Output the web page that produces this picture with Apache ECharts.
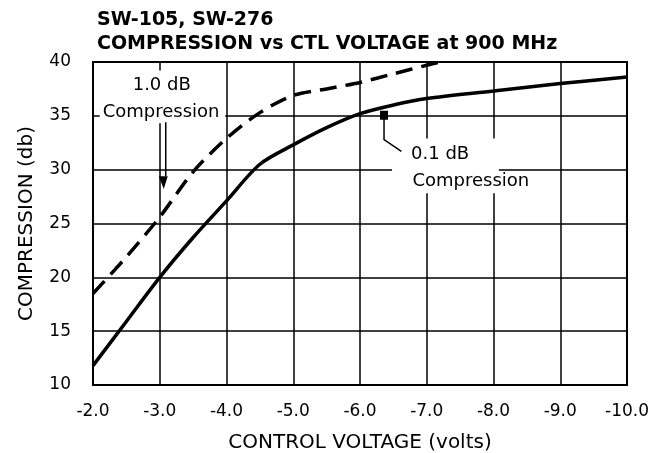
<!DOCTYPE html>
<html>
<head>
<meta charset="utf-8">
<script src="https://cdn.jsdelivr.net/npm/echarts@6/dist/echarts.min.js"></script>
<style>
  html, body { margin: 0; padding: 0; background: #fff; }
  #chart { width: 658px; height: 453px; }
</style>
</head>
<body>
<div id="chart"></div>
<script>
// control voltage (volts) and compression (db)
const voltsFine = [-2, -2.5, -3, -3.5, -4, -4.5, -5, -5.5, -6, -6.5, -7, -8, -9, -10]
const comp01dB = [11.8, 15.9, 20.0, 23.7, 27.1, 30.5, 32.3, 33.9, 35.2, 36.0, 36.6, 37.3, 38.0, 38.6]

const voltsCoarse = [-2, -2.5, -3, -3.5, -4, -4.5, -5, -5.5, -6, -6.5, -7, -7.2]
const comp10dB = [18.5, 21.9, 25.6, 29.8, 32.9, 35.3, 36.9, 37.5, 38.1, 38.9, 39.7, 40.0]

const xTicks = [-2, -3, -4, -5, -6, -7, -8, -9, -10]
const yTicks = [10, 15, 20, 25, 30, 35, 40]

const chart = echarts.init(document.getElementById('chart'))

const font = 'DejaVu Sans'

const option = {
  animation: false,
  title: {
    text: 'SW-105, SW-276\nCOMPRESSION vs CTL VOLTAGE at 900 MHz',
    left: 97,
    top: 8,
    padding: 0,
    textStyle: {
      fontFamily: font,
      fontWeight: 'bold',
      fontSize: 19,
      lineHeight: 24,
      color: '#000'
    }
  },
  grid: {
    left: 93,
    right: 31,
    top: 62,
    bottom: 68,
    outerBoundsMode: 'none',
    show: true,
    borderColor: '#000',
    borderWidth: 2
  },
  xAxis: {
    type: 'value',
    inverse: true,
    min: -10,
    max: -2,
    interval: 1,
    name: 'CONTROL VOLTAGE (volts)',
    nameLocation: 'middle',
    nameGap: 48,
    nameTextStyle: { fontFamily: font, fontSize: 20, color: '#000' },
    axisLine: { lineStyle: { color: '#000', width: 2 } },
    axisTick: { show: false },
    axisLabel: {
      margin: 18,
      fontFamily: font,
      fontSize: 17,
      color: '#000',
      formatter: (v) => (xTicks.includes(v) ? v.toFixed(1) : '')
    },
    splitLine: { show: true, lineStyle: { color: '#000', width: 1.5 } }
  },
  yAxis: {
    type: 'value',
    min: 10,
    max: 40,
    interval: 5,
    name: 'COMPRESSION (db)',
    nameLocation: 'middle',
    nameGap: 56,
    nameTextStyle: { fontFamily: font, fontSize: 20, color: '#000' },
    axisLine: { show: true, lineStyle: { color: '#000', width: 2 } },
    axisTick: { show: false },
    axisLabel: {
      margin: 22,
      fontFamily: font,
      fontSize: 17,
      color: '#000',
      formatter: (v) => (yTicks.includes(v) ? String(v) : '')
    },
    splitLine: { show: true, lineStyle: { color: '#000', width: 1.5 } }
  },
  series: [
    {
      name: '0.1 dB Compression',
      type: 'line',
      data: voltsFine.map((v, i) => [v, comp01dB[i]]),
      smooth: 0.3,
      showSymbol: false,
      lineStyle: { color: '#000', width: 3.5 },
      z: 3
    },
    {
      name: '1.0 dB Compression',
      type: 'line',
      data: voltsCoarse.map((v, i) => [v, comp10dB[i]]),
      smooth: 0.3,
      showSymbol: false,
      lineStyle: { color: '#000', width: 3.5, type: [17, 9] },
      z: 3
    }
  ]
}

chart.setOption(option)

// annotations, anchored in data coordinates
const px = (v, c) => chart.convertToPixel({ gridIndex: 0 }, [v, c])

function box(a, b) {
  const p = px(a[0], a[1])
  const q = px(b[0], b[1])
  return {
    type: 'rect',
    z: 1,
    shape: { x: p[0], y: p[1], width: q[0] - p[0], height: q[1] - p[1] },
    style: { fill: '#fff' }
  }
}

function label(text, at) {
  const p = px(at[0], at[1])
  return {
    type: 'text',
    z: 5,
    x: p[0],
    y: p[1],
    style: {
      text: text,
      fontFamily: font,
      fontSize: 18,
      fill: '#000',
      align: 'center',
      verticalAlign: 'middle'
    }
  }
}

const shaftTop = px(-3.09, 34.4)
const shaftBot = px(-3.09, 29.4)
const tip = px(-3.06, 28.2)
const mark = px(-6.36, 35.1)
const bend = px(-6.36, 32.8)
const lead = px(-6.62, 31.7)

chart.setOption({
  graphic: [
    box([-2.1, 39.2], [-3.98, 34.3]),
    box([-6.48, 32.9], [-8.08, 27.8]),
    label('1.0 dB', [-3.03, 37.8]),
    label('Compression', [-3.02, 35.35]),
    label('0.1 dB', [-7.2, 31.45]),
    label('Compression', [-7.66, 28.95]),
    {
      type: 'line',
      z: 5,
      shape: { x1: shaftTop[0], y1: shaftTop[1], x2: shaftBot[0], y2: shaftBot[1] },
      style: { stroke: '#000', lineWidth: 1.5 }
    },
    {
      type: 'polygon',
      z: 5,
      shape: {
        points: [
          [tip[0] - 5, shaftBot[1]],
          [tip[0] + 4, shaftBot[1]],
          [tip[0], tip[1]]
        ]
      },
      style: { fill: '#000' }
    },
    {
      type: 'rect',
      z: 5,
      shape: { x: mark[0] - 4, y: mark[1] - 4, width: 8, height: 9 },
      style: { fill: '#000' }
    },
    {
      type: 'polyline',
      z: 5,
      shape: { points: [mark, bend, lead] },
      style: { stroke: '#000', lineWidth: 1.5, fill: null }
    }
  ]
})

window.addEventListener('resize', () => {
  chart.resize()
})
</script>
</body>
</html>
